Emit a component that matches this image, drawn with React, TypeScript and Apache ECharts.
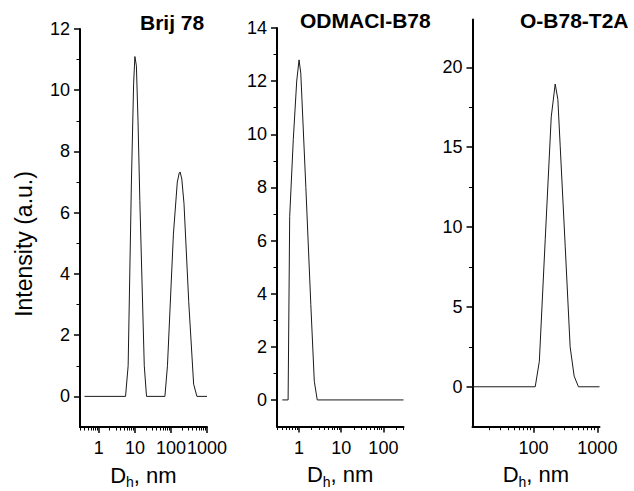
import React, { useEffect, useRef } from 'react';
import * as echarts from 'echarts';

// ---- data ----
const brijD = [0.4, 5.5, 6.5, 8.0, 9.2, 10, 11, 12.2, 13.7, 18.2, 21, 68, 80, 117, 150, 170, 180, 200, 230, 311, 426, 525, 1000];
const brijI = [0, 0, 1.0, 7.0, 10.2, 11.1, 10.8, 9.0, 6.4, 1.0, 0, 0, 1.0, 5.3, 7.0, 7.3, 7.33, 7.1, 6.3, 3.1, 0.4, 0, 0];

const odmD = [0.4, 0.55, 0.6, 0.73, 0.88, 1.0, 1.1, 1.45, 1.9, 2.3, 2.7, 300];
const odmI = [0, 0, 6.9, 9.8, 12.0, 12.8, 12.3, 8.0, 3.6, 0.7, 0, 0];

const obD = [11, 106, 123, 152, 189, 218, 240, 261, 313, 374, 432, 505, 1080];
const obI = [0, 0, 1.6, 9.2, 16.9, 18.96, 18.0, 15.1, 8.8, 2.5, 0.67, 0, 0];

const titles = ['Brij 78', 'ODMACI-B78', 'O-B78-T2A'];
const yTitle = 'Intensity (a.u.)';

const xMajor1 = [1, 10, 100, 1000];
const xMajor2 = [1, 10, 100];
const xMajor3 = [100, 1000];

const yMajor1 = [0, 2, 4, 6, 8, 10, 12];
const yMinor1 = [1, 3, 5, 7, 9, 11];
const yMajor2 = [0, 2, 4, 6, 8, 10, 12, 14];
const yMinor2 = [1, 3, 5, 7, 9, 11, 13];
const yMajor3 = [0, 5, 10, 15, 20];
const yMinor3 = [2.5, 7.5, 12.5, 17.5];

function minorLog(min: number, max: number): number[] {
  const out: number[] = [];
  for (let k = -2; k <= 4; k++) {
    for (let m = 2; m <= 9; m++) {
      const v = m * Math.pow(10, k);
      if (v >= min && v <= max) out.push(v);
    }
  }
  return out;
}

const FONT = 'Liberation Sans, Arial, Helvetica, sans-serif';

export default function App() {
  const ref = useRef<HTMLDivElement>(null);
  useEffect(() => {
    const chart = echarts.init(ref.current!, null, { renderer: 'svg' });

    const panels = [
      { grid: { left: 80, top: 29, width: 127, height: 398 }, xmin: 0.3, xmax: 1000, ymin: -1, ymax: 12, xMajor: xMajor1, yMajor: yMajor1, yMinor: yMinor1, D: brijD, I: brijI },
      { grid: { left: 277, top: 28, width: 126.5, height: 398.5 }, xmin: 0.3, xmax: 300, ymin: -1, ymax: 14, xMajor: xMajor2, yMajor: yMajor2, yMinor: yMinor2, D: odmD, I: odmI },
      { grid: { left: 472.5, top: 19.5, width: 127, height: 407.2 }, xmin: 11, xmax: 1080, ymin: -2.5, ymax: 23, xMajor: xMajor3, yMajor: yMajor3, yMinor: yMinor3, D: obD, I: obI },
    ];

    const grid: any[] = [];
    const xAxis: any[] = [];
    const yAxis: any[] = [];
    const series: any[] = [];

    panels.forEach((p, i) => {
      grid.push({ ...p.grid, containLabel: false, outerBoundsMode: 'none' });
      xAxis.push({
        type: 'log', gridIndex: i, position: 'bottom', min: p.xmin, max: p.xmax, logBase: 10,
        axisLine: { show: true, onZero: false, lineStyle: { color: '#000', width: 2 } },
        axisTick: { show: true, inside: false, length: 6, customValues: p.xMajor, lineStyle: { color: '#000', width: 1.5 } },
        axisLabel: { show: true, customValues: p.xMajor, margin: 12, color: '#000', fontSize: 18, fontFamily: FONT, formatter: (v: number) => String(Math.round(v)) },
        splitLine: { show: false },
        name: '{a|D}{s|h}{a|, nm}{z| }',
        nameLocation: 'middle',
        nameGap: 37,
        nameTextStyle: {
          rich: {
            a: { fontSize: 22, fontFamily: FONT, color: '#000', lineHeight: 22, verticalAlign: 'top' },
            s: { fontSize: 14, fontFamily: FONT, color: '#000', lineHeight: 14, verticalAlign: 'bottom' },
            z: { fontSize: 1, lineHeight: 25, verticalAlign: 'top' },
          },
          fontSize: 22, fontFamily: FONT, color: '#000', lineHeight: 22, verticalAlign: 'top',
        },
      });
      xAxis.push({
        type: 'log', gridIndex: i, position: 'bottom', min: p.xmin, max: p.xmax, logBase: 10,
        axisLine: { show: false, onZero: false },
        axisTick: { show: true, inside: false, length: 3.5, customValues: minorLog(p.xmin, p.xmax), lineStyle: { color: '#000', width: 1 } },
        axisLabel: { show: false },
        splitLine: { show: false },
      });
      yAxis.push({
        type: 'value', gridIndex: i, position: 'left', min: p.ymin, max: p.ymax,
        axisLine: { show: true, onZero: false, lineStyle: { color: '#000', width: 2 } },
        axisTick: { show: true, inside: false, length: 6, customValues: p.yMajor, lineStyle: { color: '#000', width: 1.5 } },
        axisLabel: { show: true, customValues: p.yMajor, margin: 10, color: '#000', fontSize: 18, fontFamily: FONT },
        splitLine: { show: false },
      });
      yAxis.push({
        type: 'value', gridIndex: i, position: 'left', min: p.ymin, max: p.ymax,
        axisLine: { show: false, onZero: false },
        axisTick: { show: true, inside: false, length: 3.5, customValues: p.yMinor, lineStyle: { color: '#000', width: 1 } },
        axisLabel: { show: false },
        splitLine: { show: false },
      });
      series.push({
        type: 'line', xAxisIndex: i * 2, yAxisIndex: i * 2, showSymbol: false, symbol: 'none',
        lineStyle: { color: '#1a1a1a', width: 1 }, silent: true,
        data: p.D.map((d, k) => [d, p.I[k]]),
      });
    });

    const titleFont = `bold 21px ${FONT}`;
    chart.setOption({
      animation: false,
      backgroundColor: '#fff',
      grid, xAxis, yAxis, series,
      graphic: [
        { type: 'text', x: 140, y: 22, style: { text: titles[0], font: titleFont, fill: '#000', textAlign: 'left', textVerticalAlign: 'middle' } },
        { type: 'text', x: 300, y: 20, style: { text: titles[1], font: titleFont, fill: '#000', textAlign: 'left', textVerticalAlign: 'middle' } },
        { type: 'text', x: 520, y: 20, style: { text: titles[2], font: titleFont, fill: '#000', textAlign: 'left', textVerticalAlign: 'middle' } },
        { type: 'text', x: 24, y: 244, rotation: Math.PI / 2, style: { text: yTitle, font: `23px ${FONT}`, fill: '#000', textAlign: 'center', textVerticalAlign: 'middle' } },
      ],
    });
    return () => chart.dispose();
  }, []);
  return <div ref={ref} style={{ position: 'fixed', left: 0, top: 0, width: 634, height: 491, background: '#fff' }} />;
}
